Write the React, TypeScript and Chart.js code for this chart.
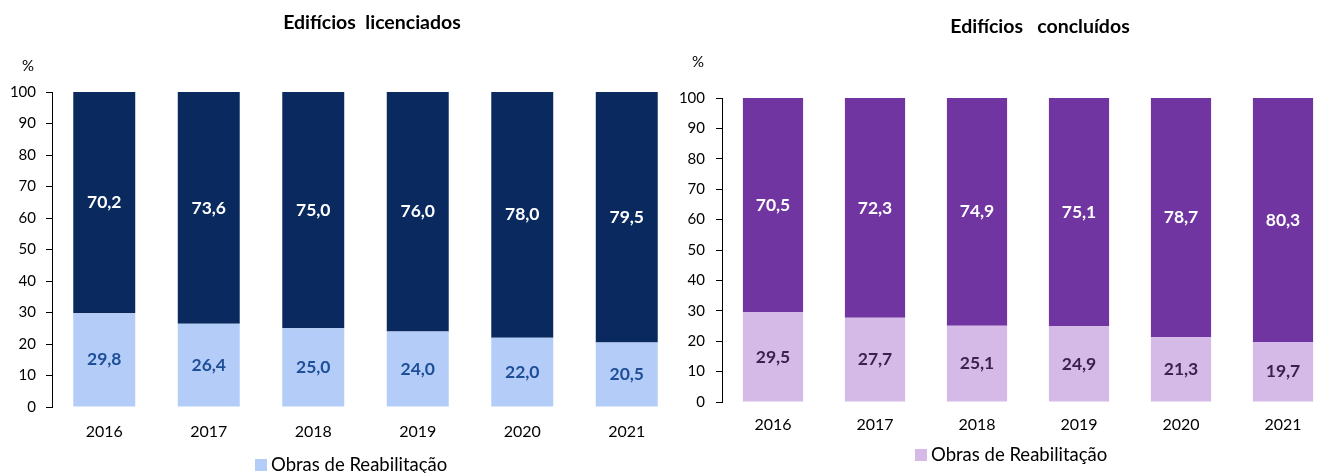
import React, { useEffect, useRef } from "react";
import { Chart, registerables } from "chart.js";

Chart.register(...registerables);

const years = ["2016", "2017", "2018", "2019", "2020", "2021"];
const licRehab = [29.8, 26.4, 25.0, 24.0, 22.0, 20.5];
const licNew = [70.2, 73.6, 75.0, 76.0, 78.0, 79.5];
const conRehab = [29.5, 27.7, 25.1, 24.9, 21.3, 19.7];
const conNew = [70.5, 72.3, 74.9, 75.1, 78.7, 80.3];

const rehabLabel = "Obras de Reabilitação";
const newLabel = "Obras de Construção Nova";
const titleLic = "Edifícios  licenciados";
const titleCon = "Edifícios   concluídos";
const unitLabel = "%";

const FONT = "Lato";

const extrasPlugin = {
  id: "extras",
  afterDatasetsDraw(chart: any, _args: any, opts: any) {
    const ctx = chart.ctx;
    ctx.save();
    ctx.textAlign = "center";
    ctx.textBaseline = "middle";
    ctx.font = `bold 17.5px ${FONT}`;
    chart.data.datasets.forEach((ds: any, i: number) => {
      const meta = chart.getDatasetMeta(i);
      meta.data.forEach((bar: any, j: number) => {
        const p = bar.getProps(["x", "y", "base"], true);
        const v = ds.data[j] as number;
        ctx.fillStyle = opts.labelColors[i];
        ctx.fillText(v.toFixed(1).replace(".", ","), p.x, (p.y + p.base) / 2);
      });
    });
    ctx.restore();
  },
  afterDraw(chart: any, _args: any, opts: any) {
    const ctx = chart.ctx;
    ctx.save();
    // title
    ctx.fillStyle = "#000";
    ctx.textAlign = "center";
    ctx.textBaseline = "middle";
    ctx.font = `bold 19.5px ${FONT}`;
    ctx.fillText(opts.title, opts.titleX, opts.titleY);
    // unit
    ctx.font = `15px ${FONT}`;
    ctx.fillText(unitLabel, opts.unitX, opts.unitY);
    // legend
    ctx.fillStyle = opts.legendColor;
    ctx.fillRect(opts.legendX, opts.legendY - 6, 12, 12);
    ctx.fillStyle = "#000";
    ctx.textAlign = "left";
    ctx.font = `18.5px ${FONT}`;
    ctx.fillText(rehabLabel, opts.legendX + 16, opts.legendY);
    ctx.restore();
  },
};

type Cfg = {
  rehab: number[];
  other: number[];
  rehabColor: string;
  otherColor: string;
  rehabLabelColor: string;
  title: string;
  titleX: number;
  titleY: number;
  unitX: number;
  unitY: number;
  legendX: number;
  legendY: number;
  width: number;
  height: number;
  areaLeft: number;
  areaRight: number;
  areaTop: number;
  areaBottom: number;
  xAxisHeight: number;
  xPadding: number;
  yPadding: number;
  barPct: number;
};

function BarPanel({ cfg, left }: { cfg: Cfg; left: number }) {
  const ref = useRef<HTMLCanvasElement | null>(null);
  useEffect(() => {
    if (!ref.current) return;
    const chart = new Chart(ref.current, {
      type: "bar",
      data: {
        labels: years,
        datasets: [
          {
            label: rehabLabel,
            data: cfg.rehab,
            backgroundColor: cfg.rehabColor,
            borderWidth: 0,
            barPercentage: cfg.barPct,
            categoryPercentage: 1,
          },
          {
            label: newLabel,
            data: cfg.other,
            backgroundColor: cfg.otherColor,
            borderWidth: 0,
            barPercentage: cfg.barPct,
            categoryPercentage: 1,
          },
        ],
      },
      options: {
        responsive: false,
        animation: false,
        devicePixelRatio: 1,
        layout: {
          padding: {
            left: 0,
            right: cfg.width - cfg.areaRight,
            top: cfg.areaTop,
            bottom: cfg.height - cfg.areaBottom - cfg.xAxisHeight,
          },
        },
        plugins: {
          legend: { display: false },
          title: { display: false },
          tooltip: { enabled: false },
          extras: {
            labelColors: [cfg.rehabLabelColor, "#ffffff"],
            title: cfg.title,
            titleX: cfg.titleX,
            titleY: cfg.titleY,
            unitX: cfg.unitX,
            unitY: cfg.unitY,
            legendX: cfg.legendX,
            legendY: cfg.legendY,
            legendColor: cfg.rehabColor,
          },
        } as any,
        scales: {
          x: {
            stacked: true,
            grid: { display: false, drawTicks: false },
            border: { display: false },
            ticks: {
              color: "#000",
              font: { family: FONT, size: 16 },
              padding: cfg.xPadding,
            },
            afterFit: (s: any) => {
              s.height = cfg.xAxisHeight;
            },
          },
          y: {
            stacked: true,
            min: 0,
            max: 100,
            ticks: {
              stepSize: 10,
              color: "#000",
              font: { family: FONT, size: 15 },
              padding: cfg.yPadding,
            },
            grid: {
              display: true,
              drawOnChartArea: false,
              drawTicks: true,
              tickLength: 6,
              color: "#000",
              lineWidth: 1,
            },
            border: { display: true, color: "#000", width: 1 },
            afterFit: (s: any) => {
              s.width = cfg.areaLeft;
            },
          },
        },
      },
      plugins: [extrasPlugin as any],
    });
    return () => chart.destroy();
  }, [cfg]);
  return (
    <canvas
      ref={ref}
      width={cfg.width}
      height={cfg.height}
      style={{ position: "absolute", left, top: 0, width: cfg.width, height: cfg.height }}
    />
  );
}

const leftCfg: Cfg = {
  rehab: licRehab,
  other: licNew,
  rehabColor: "#B4CDF8",
  otherColor: "#0A2A5F",
  rehabLabelColor: "#1F4E99",
  title: titleLic,
  titleX: 372,
  titleY: 23,
  unitX: 28,
  unitY: 66,
  legendX: 255,
  legendY: 465,
  width: 700,
  height: 490,
  areaLeft: 52,
  areaRight: 679,
  areaTop: 92,
  areaBottom: 407,
  xAxisHeight: 40,
  xPadding: 15,
  yPadding: 10,
  barPct: 0.593,
};

const rightCfg: Cfg = {
  rehab: conRehab,
  other: conNew,
  rehabColor: "#D5B9E7",
  otherColor: "#7035A0",
  rehabLabelColor: "#3B1F4C",
  title: titleCon,
  titleX: 380,
  titleY: 27,
  unitX: 38,
  unitY: 62,
  legendX: 255,
  legendY: 455,
  width: 700,
  height: 490,
  areaLeft: 62,
  areaRight: 674,
  areaTop: 98,
  areaBottom: 402,
  xAxisHeight: 40,
  xPadding: 13,
  yPadding: 11,
  barPct: 0.59,
};

export default function App() {
  return (
    <div
      style={{
        position: "fixed",
        left: 0,
        top: 0,
        width: 1317,
        height: 473,
        overflow: "hidden",
        background: "#fff",
      }}
    >
      <BarPanel cfg={leftCfg} left={0} />
      <BarPanel cfg={rightCfg} left={660} />
    </div>
  );
}
